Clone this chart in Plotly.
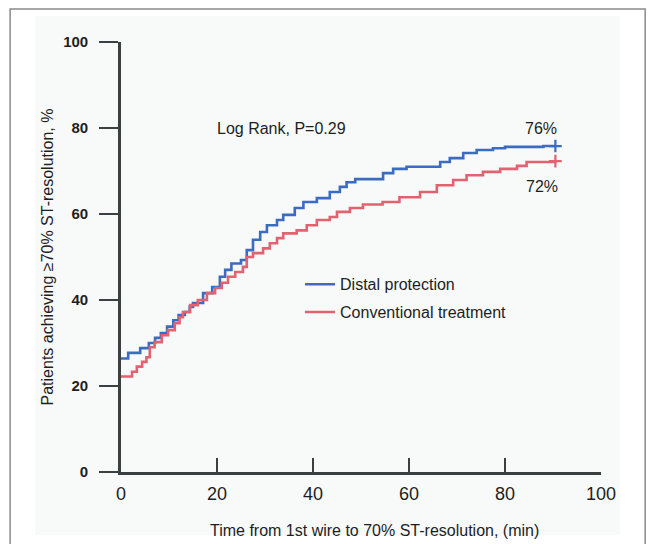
import plotly.graph_objects as go

# Distal protection (blue) step curve: time (min) -> % achieving >=70% ST-resolution
distal_t = [0, 1.5, 4, 5.8, 7.1, 8.3, 9.6, 10.9, 12, 13.3, 14.3, 15, 17.1, 19, 20.6, 21.7, 23, 25,
            26.2, 27.5, 29, 30.4, 32.5, 33.8, 36.2, 38, 40.8, 43.5, 45.6, 47, 48.8, 54.6, 56.7,
            59.5, 66.5, 68.5, 71.3, 74.1, 77.5, 80, 88, 90.5]
distal_v = [26.4, 27.7, 28.8, 30, 31.2, 32.3, 33.8, 35.3, 36.5, 37.2, 38.4, 39.3, 41.6, 43, 45.4, 47,
            48.5, 49.3, 51.6, 54, 55.8, 57.4, 58.6, 59.8, 61.4, 62.8, 63.7, 65.1, 66.3, 67.4, 68.1,
            69.5, 70.5, 71, 72.1, 73, 74.2, 74.9, 75.3, 75.6, 75.8, 75.8]

# Conventional treatment (red) step curve
conv_t = [0, 2.3, 3.3, 4.4, 5.3, 6, 7, 8.5, 9.8, 11.2, 12.2, 12.9, 14.4, 16, 17.9, 19.6, 21, 22.3,
          23.8, 25.4, 26.2, 27.5, 29.6, 31, 32.5, 33.8, 36.6, 38.7, 40.8, 43.5, 45, 47.7, 50.4,
          54.5, 58, 62.3, 65.8, 69.2, 72, 75.4, 79, 82.5, 84.5, 90.5]
conv_v = [22.2, 23.3, 24.5, 25.6, 26.7, 29, 30.2, 31.8, 33, 34.6, 36, 37.2, 38.8, 40, 41.6, 42.8, 44,
          45.4, 46.5, 47.7, 50, 50.9, 52, 53.2, 54.4, 55.5, 56.2, 57.4, 58.6, 59.3, 60.5, 61.4, 62.2,
          62.8, 63.9, 65.1, 66.7, 67.9, 69, 69.8, 70.5, 71.2, 72.1, 72.3]

series_names = ["Distal protection", "Conventional treatment"]
final_labels = ["76%", "72%"]
x_ticks = [0, 20, 40, 60, 80, 100]
y_ticks = [0, 20, 40, 60, 80, 100]

BLUE = "#3a6cc2"
RED = "#e2626f"
INK = "#1e1e1e"
AXIS = "#3a3f42"
FONT = "Liberation Sans, Arial, sans-serif"

fig = go.Figure()
fig.add_trace(go.Scatter(x=distal_t, y=distal_v, mode="lines", line=dict(color=BLUE, width=2.6, shape="hv"),
                         name=series_names[0], legendgroup="a"))
fig.add_trace(go.Scatter(x=conv_t, y=conv_v, mode="lines", line=dict(color=RED, width=2.6, shape="hv"),
                         name=series_names[1], legendgroup="b"))
# censor "+" at the end of each curve
fig.add_trace(go.Scatter(x=[distal_t[-1]], y=[distal_v[-1]], mode="markers", showlegend=False,
                         marker=dict(symbol="cross-thin", size=9, line=dict(color=BLUE, width=2.2))))
fig.add_trace(go.Scatter(x=[conv_t[-1]], y=[conv_v[-1]], mode="markers", showlegend=False,
                         marker=dict(symbol="cross-thin", size=9, line=dict(color=RED, width=2.2))))

# the page body has an 8px margin: the figure is 648x536 so it fills the 656x544 window
fig.update_layout(
    width=648, height=536,
    margin=dict(l=113, r=55, t=34, b=72),
    paper_bgcolor="white", plot_bgcolor="rgba(0,0,0,0)",
    font=dict(family=FONT, color=INK, size=16),
    showlegend=True,
    legend=dict(x=0.373, y=0.476, xanchor="left", yanchor="top", bgcolor="rgba(0,0,0,0)",
                font=dict(size=16, family=FONT, color=INK), itemwidth=30,
                traceorder="grouped", tracegroupgap=4),
    xaxis=dict(range=[0, 100], tickvals=x_ticks, ticks="inside", ticklen=14, tickwidth=2, tickcolor=AXIS,
               showline=True, linewidth=2.8, linecolor=AXIS, showgrid=False, zeroline=False,
               tickfont=dict(size=18, family=FONT, color=INK), ticklabelstandoff=3),
    yaxis=dict(range=[0, 100], tickvals=y_ticks, ticktext=["<b>%d</b>" % v for v in y_ticks],
               ticks="outside", ticklen=19, tickwidth=2, tickcolor=AXIS,
               showline=True, linewidth=2.6, linecolor=AXIS, showgrid=False, zeroline=False,
               tickfont=dict(size=15, family=FONT, color=INK), ticklabelstandoff=8,
               title=dict(text="Patients achieving \u226570% ST-resolution, %", standoff=6,
                          font=dict(size=16, family=FONT, color=INK))),
    annotations=[
        dict(x=0.529, y=-0.135, xref="paper", yref="paper", yanchor="middle",
             text="Time from 1st wire to 70% ST-resolution, (min)", showarrow=False,
             font=dict(size=16, family=FONT, color=INK)),
        dict(x=33.5, y=80, xref="x", yref="y", text="Log Rank, P=0.29", showarrow=False,
             font=dict(size=16, family=FONT, color=INK)),
        dict(x=87.5, y=80, xref="x", yref="y", text=final_labels[0], showarrow=False,
             font=dict(size=16, family=FONT, color=INK)),
        dict(x=87.7, y=66.5, xref="x", yref="y", text=final_labels[1], showarrow=False,
             font=dict(size=16, family=FONT, color=INK)),
    ],
    shapes=[
        dict(type="rect", xref="paper", yref="paper", x0=-0.179, x1=1.04, y0=-0.147, y1=1.06,
             fillcolor="#f8f9f9", line=dict(width=0), layer="below"),
        dict(type="rect", xref="paper", yref="paper", x0=-0.231, x1=1.092, y0=-0.25, y1=1.077,
             fillcolor="rgba(0,0,0,0)", line=dict(color="#8a8a8a", width=1.5), layer="below"),
    ],
)

fig.write_html("out.html")
